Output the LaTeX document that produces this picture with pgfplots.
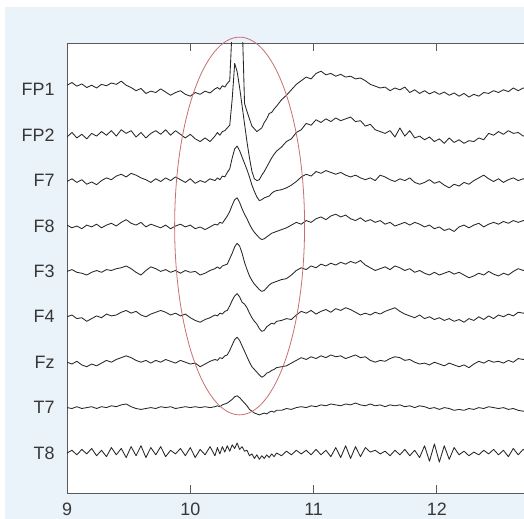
\documentclass[border=0pt]{standalone}
\usepackage{fontspec}
\setmainfont{Liberation Sans}
\usepackage{pgfplots}
\usepackage{pgfplotstable}
\pgfplotsset{compat=1.18}
\definecolor{bgblue}{RGB}{234,242,250}
\definecolor{ellred}{RGB}{200,110,110}
\definecolor{axgray}{RGB}{90,90,90}
\definecolor{lblgray}{RGB}{55,55,55}
\pgfplotstableread{
t FPone FPtwo Fseven Feight Fthree Ffour Fz Tseven Teight
9.00 0.10 -0.04 -0.02 0.02 0.00 0.00 0.00 0.00 0.00
9.04 0.16 0.06 0.04 -0.04 0.04 0.04 -0.04 -0.02 0.06
9.08 0.08 -0.06 -0.04 0.00 -0.02 -0.04 0.02 0.02 -0.04
9.12 0.13 0.02 0.02 -0.06 -0.04 -0.02 -0.06 -0.02 0.08
9.16 0.05 -0.08 -0.08 0.02 -0.08 -0.10 -0.10 0.00 -0.02
9.20 0.10 0.04 -0.03 -0.02 -0.02 -0.04 -0.04 0.02 0.10
9.24 0.04 -0.02 -0.09 0.04 0.02 0.02 -0.08 -0.02 -0.06
9.28 0.12 0.08 0.00 -0.04 -0.02 -0.02 -0.02 0.02 0.06
9.32 0.09 0.00 0.06 0.02 0.04 0.06 0.04 0.00 -0.08
9.36 0.15 0.10 0.02 0.06 0.02 0.02 0.00 0.04 0.12
9.40 0.12 -0.02 0.10 0.00 0.06 0.04 0.06 0.02 -0.04
9.44 0.19 0.12 0.14 0.08 0.08 0.10 0.10 0.06 0.10
9.48 0.10 0.04 0.08 0.14 0.12 0.14 0.14 0.08 -0.10
9.52 0.05 0.10 0.16 0.06 0.06 0.08 0.10 0.02 0.14
9.56 -0.02 -0.04 0.12 0.02 -0.02 0.12 0.04 -0.02 -0.06
9.60 0.03 0.06 0.06 0.08 -0.08 0.04 0.00 -0.04 0.16
9.64 -0.08 -0.06 0.02 -0.02 0.02 0.00 0.04 -0.02 -0.10
9.68 -0.03 0.04 -0.04 0.04 0.10 0.06 -0.02 0.00 0.12
9.72 -0.06 0.10 0.04 0.00 0.06 0.10 0.04 -0.02 -0.04
9.76 0.02 0.02 -0.02 -0.04 0.00 0.14 0.00 0.02 0.14
9.80 -0.05 0.12 0.06 0.02 0.04 0.10 0.06 0.00 -0.08
9.84 -0.12 0.00 0.00 -0.06 -0.02 0.04 0.02 0.02 0.06
9.88 -0.06 0.10 0.08 0.00 0.02 0.08 -0.02 -0.02 -0.02
9.92 -0.02 0.02 0.02 0.04 -0.04 0.02 0.04 0.00 0.10
9.96 -0.10 -0.06 -0.04 -0.02 0.02 0.06 0.00 0.02 -0.06
10.00 -0.14 0.02 0.04 0.02 -0.02 -0.02 -0.04 0.00 0.12
10.04 -0.06 -0.08 -0.06 -0.06 0.00 -0.08 -0.02 0.02 -0.10
10.08 -0.10 -0.14 0.00 -0.02 -0.08 -0.12 -0.10 0.00 0.08
10.12 -0.03 -0.06 -0.04 -0.08 -0.04 -0.06 -0.04 0.02 -0.04
10.16 -0.07 -0.14 0.04 -0.02 0.02 -0.02 0.02 0.00 0.14
10.20 0.02 -0.02 0.00 0.04 0.06 0.04 0.06 0.02 -0.06
10.22 0.05 0.06 0.06 0.02 0.10 0.02 0.04 0.04 0.12
10.24 0.01 0.00 0.02 0.08 0.06 0.08 0.10 0.02 -0.02
10.26 0.09 0.08 0.10 0.06 0.12 0.06 0.08 0.06 0.14
10.28 0.06 0.10 0.08 0.14 0.14 0.12 0.14 0.08 0.02
10.30 0.14 0.16 0.18 0.22 0.16 0.14 0.16 0.10 0.16
10.32 0.20 0.22 0.26 0.32 0.28 0.24 0.26 0.14 0.04
10.34 1.40 0.80 0.50 0.46 0.40 0.36 0.38 0.18 0.18
10.36 2.00 1.58 0.70 0.58 0.54 0.46 0.50 0.24 0.10
10.38 2.20 1.40 0.76 0.62 0.62 0.51 0.55 0.26 0.22
10.40 2.10 1.05 0.66 0.52 0.56 0.44 0.48 0.22 0.08
10.42 1.60 0.65 0.52 0.38 0.40 0.32 0.36 0.16 0.14
10.44 -0.30 0.25 0.38 0.26 0.20 0.28 0.24 0.10 0.04
10.46 -0.48 -0.15 0.24 0.16 0.04 0.20 0.12 0.04 0.06
10.48 -0.64 -0.50 0.08 0.04 -0.10 0.08 0.00 -0.04 -0.06
10.50 -0.80 -0.80 -0.10 -0.06 -0.20 -0.02 -0.10 -0.08 -0.02
10.52 -0.86 -0.96 -0.24 -0.14 -0.28 -0.10 -0.16 -0.12 -0.12
10.54 -0.92 -1.00 -0.36 -0.20 -0.34 -0.16 -0.22 -0.14 -0.04
10.56 -0.88 -0.98 -0.44 -0.26 -0.40 -0.26 -0.28 -0.16 -0.14
10.58 -0.84 -0.88 -0.42 -0.30 -0.44 -0.32 -0.33 -0.14 -0.06
10.60 -0.72 -0.80 -0.38 -0.28 -0.42 -0.30 -0.30 -0.12 -0.12
10.62 -0.64 -0.70 -0.36 -0.24 -0.36 -0.22 -0.24 -0.14 -0.04
10.64 -0.52 -0.60 -0.34 -0.20 -0.30 -0.18 -0.22 -0.10 -0.10
10.66 -0.50 -0.50 -0.28 -0.16 -0.26 -0.14 -0.18 -0.08 -0.02
10.68 -0.42 -0.42 -0.24 -0.14 -0.24 -0.16 -0.16 -0.10 -0.08
10.70 -0.36 -0.35 -0.22 -0.12 -0.22 -0.10 -0.12 -0.06 0.00
10.74 -0.22 -0.26 -0.20 -0.08 -0.18 -0.08 -0.10 -0.06 -0.06
10.78 -0.12 -0.14 -0.16 -0.04 -0.16 -0.04 -0.08 -0.02 0.04
10.82 0.00 -0.08 -0.10 0.02 -0.08 -0.06 -0.02 -0.04 -0.04
10.86 0.12 0.06 -0.02 0.08 0.02 0.04 0.04 0.00 0.06
10.90 0.20 0.12 0.08 0.04 0.08 0.12 0.10 0.02 -0.02
10.94 0.28 0.26 0.14 0.12 0.04 0.08 0.06 0.00 0.06
10.98 0.24 0.22 0.10 0.08 0.12 0.14 0.12 0.04 -0.04
11.02 0.36 0.34 0.20 0.16 0.08 0.06 0.08 0.02 0.08
11.06 0.41 0.28 0.16 0.20 0.16 0.12 0.14 0.06 -0.04
11.10 0.33 0.36 0.22 0.14 0.12 0.16 0.10 0.04 0.06
11.14 0.36 0.30 0.18 0.22 0.18 0.10 0.16 0.08 -0.08
11.18 0.30 0.38 0.14 0.26 0.14 0.18 0.12 0.06 0.12
11.22 0.34 0.32 0.18 0.20 0.20 0.14 0.14 0.04 -0.10
11.26 0.28 0.36 0.12 0.24 0.16 0.20 0.08 0.08 0.16
11.30 0.30 0.40 0.08 0.16 0.22 0.16 0.12 0.06 -0.12
11.34 0.24 0.30 0.12 0.12 0.18 0.10 0.16 0.10 0.14
11.38 0.26 0.32 0.06 0.18 0.24 0.04 0.10 0.06 -0.08
11.42 0.20 0.20 0.02 0.10 0.14 0.08 0.12 0.04 0.12
11.46 0.12 0.24 0.06 0.14 0.08 0.04 0.04 0.08 0.02
11.50 0.08 0.12 0.00 0.08 0.02 0.10 0.00 0.04 0.06
11.54 0.04 0.08 0.12 0.12 0.06 0.06 0.04 0.06 -0.02
11.58 0.06 0.04 0.08 0.04 0.10 0.12 0.02 0.02 0.04
11.62 -0.02 0.10 0.02 0.08 0.04 0.16 0.08 0.06 -0.06
11.66 0.04 -0.04 -0.02 0.00 0.12 0.20 0.12 0.04 0.06
11.70 0.00 0.16 0.04 0.04 0.08 0.12 0.10 0.06 -0.04
11.74 0.06 -0.02 0.00 0.08 0.02 0.06 0.04 0.02 0.08
11.78 -0.06 0.10 0.06 0.02 0.06 0.02 0.06 0.04 -0.06
11.82 0.00 -0.06 -0.04 0.08 -0.02 -0.02 0.00 0.00 0.06
11.86 -0.08 -0.02 -0.08 0.04 0.02 0.04 -0.04 0.04 -0.10
11.90 -0.02 -0.10 -0.04 -0.02 -0.04 -0.04 -0.02 0.02 0.16
11.94 -0.09 -0.04 0.02 0.02 -0.08 0.00 -0.06 -0.02 -0.18
11.98 -0.04 -0.14 -0.06 -0.06 -0.02 -0.06 0.00 0.00 0.20
12.02 -0.10 -0.08 -0.02 -0.02 -0.08 -0.02 -0.04 -0.04 -0.20
12.06 -0.05 -0.18 -0.10 -0.10 -0.04 -0.08 -0.08 0.00 0.16
12.10 -0.12 -0.06 -0.16 -0.06 0.00 -0.04 -0.02 -0.02 -0.14
12.14 -0.07 -0.16 -0.08 -0.12 -0.06 -0.10 -0.06 -0.06 0.12
12.18 -0.14 -0.10 -0.12 -0.02 -0.02 -0.06 -0.10 -0.04 -0.04
12.22 -0.08 -0.18 -0.04 0.02 -0.08 -0.12 -0.06 -0.06 0.04
12.26 -0.16 -0.12 -0.08 -0.04 -0.14 -0.04 -0.12 -0.02 -0.06
12.30 -0.10 -0.14 0.00 0.02 -0.10 -0.08 -0.04 -0.04 0.02
12.34 -0.14 -0.06 0.06 0.06 -0.04 0.00 0.02 0.00 -0.04
12.38 -0.06 -0.10 0.12 -0.02 -0.08 -0.06 -0.02 -0.02 0.06
12.42 -0.08 0.04 0.04 0.04 0.00 0.02 0.04 0.02 -0.02
12.46 -0.02 0.00 -0.02 0.08 -0.06 -0.04 0.00 0.00 0.08
12.50 -0.06 0.08 0.04 0.04 -0.10 0.04 0.02 -0.02 -0.04
12.54 0.00 0.02 -0.04 0.10 -0.04 0.00 -0.02 0.00 0.06
12.58 -0.04 0.10 0.02 0.06 -0.08 0.06 0.04 -0.04 -0.08
12.62 0.04 0.04 0.06 0.12 0.00 0.02 0.00 -0.02 0.10
12.66 -0.02 0.06 0.00 0.08 0.06 0.10 0.08 -0.06 -0.04
12.70 0.04 -0.02 0.04 0.12 0.02 0.08 0.06 -0.08 0.08
12.74 0.02 0.02 0.02 0.10 0.06 0.12 0.10 -0.06 0.00
}\eeg
\begin{document}
\begin{tikzpicture}
\fill[white] (-67bp,-26bp) rectangle (457bp,493bp);
\fill[bgblue] (-62bp,-26bp) rectangle (457bp,486bp);
\begin{axis}[
  at={(0,0)}, anchor=south west,
  scale only axis, width=457.4bp, height=450bp,
  xmin=9, xmax=12.71, ymin=0.119, ymax=10.031,
  axis x line*=box, axis y line*=left,
  axis line style={axgray, line width=0.9pt},
  axis background/.style={fill=white},
  xtick={9,10,11,12},
  ytick={1,2,3,4,5,6,7,8,9},
  yticklabels={T8,T7,Fz,F4,F3,F8,F7,FP2,FP1},
  tick align=inside,
  major tick length=8bp,
  xtick style={axgray, line width=0.9pt},
  ytick style={draw=none},
  /pgf/number format/assume math mode=true,
  tick label style={font=\fontsize{18}{20}\selectfont, text=lblgray},
  xticklabel style={yshift=-6.5bp},
  yticklabel style={xshift=-9bp},
  clip mode=individual,
  trace/.style={black!85, line width=0.85pt, line join=round, mark=none},
]
\addplot[trace] table[x=t, y expr=\thisrow{FPone}+9] {\eeg};
\addplot[trace] table[x=t, y expr=\thisrow{FPtwo}+8] {\eeg};
\addplot[trace] table[x=t, y expr=\thisrow{Fseven}+7] {\eeg};
\addplot[trace] table[x=t, y expr=\thisrow{Feight}+6] {\eeg};
\addplot[trace] table[x=t, y expr=\thisrow{Fthree}+5] {\eeg};
\addplot[trace] table[x=t, y expr=\thisrow{Ffour}+4] {\eeg};
\addplot[trace] table[x=t, y expr=\thisrow{Fz}+3] {\eeg};
\addplot[trace] table[x=t, y expr=\thisrow{Tseven}+2] {\eeg};
\addplot[trace] table[x=t, y expr=\thisrow{Teight}+1] {\eeg};
\draw[ellred, line width=0.8pt] (axis cs:10.40,6.0) ellipse [x radius=0.527, y radius=4.16];
\end{axis}
\pgfresetboundingbox
\useasboundingbox (-67bp,-26bp) rectangle (457bp,493bp);
\end{tikzpicture}
\end{document}
